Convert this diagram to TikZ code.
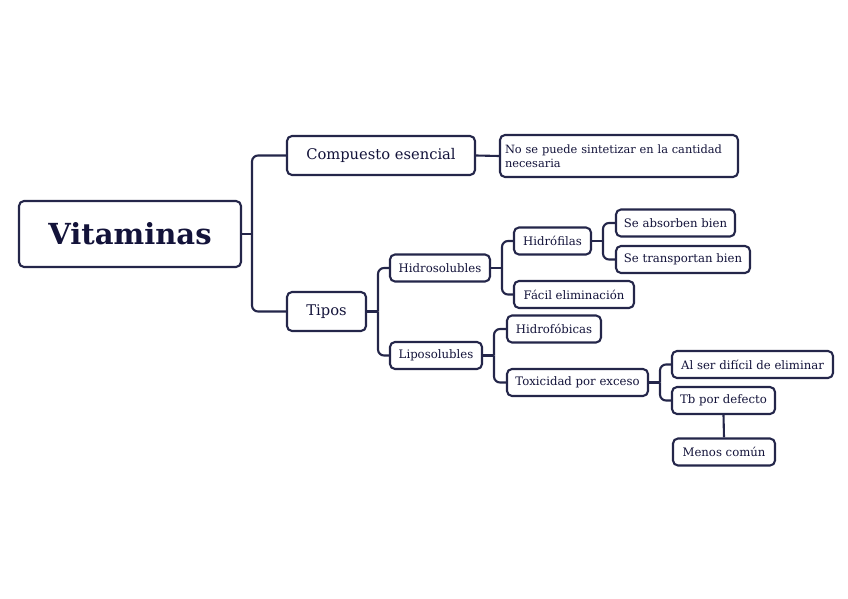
\documentclass[tikz,border=0pt]{standalone}
\usepackage{fontspec}
\setmainfont{DejaVu Serif}
\begin{document}
\begin{tikzpicture}[x=1pt,y=-1pt,
  box/.style={draw=linec, line width=2.1pt, rounded corners=5pt, fill=white, text=textc, inner sep=0pt, anchor=center},
  conn/.style={draw=linec, line width=2.1pt, rounded corners=6pt},
  small/.style={box, font=\fontsize{11.7}{13}\selectfont, minimum height=27pt},
]
\definecolor{linec}{HTML}{24264A}
\definecolor{textc}{HTML}{13133A}
\useasboundingbox (0,0) rectangle (848,599);
\node[box, minimum width=222pt, minimum height=66pt, font=\fontsize{29}{32}\selectfont\bfseries] (vit) at (130,234) {Vitaminas};
\node[box, minimum width=188pt, minimum height=39pt, font=\fontsize{14.7}{16}\selectfont] (comp) at (381,155.5) {Compuesto esencial};
\node[box, minimum width=238pt, minimum height=42pt, text width=228pt, align=left, font=\fontsize{11.4}{14}\selectfont] (nose) at (619,156) {No se puede sintetizar en la cantidad\\necesaria};
\node[box, minimum width=79pt, minimum height=39pt, font=\fontsize{14.7}{16}\selectfont] (tipos) at (326.5,311.5) {Tipos};
\node[small, minimum width=100pt] (hidro) at (440,268) {Hidrosolubles};
\node[small, minimum width=92pt] (lipo) at (436,355.5) {Liposolubles};
\node[small, minimum width=77pt] (hfil) at (552.5,241) {Hidrófilas};
\node[small, minimum width=120pt] (facil) at (574,294.5) {Fácil eliminación};
\node[small, minimum width=119pt] (abs) at (675.5,223) {Se absorben bien};
\node[small, minimum width=134pt] (trans) at (683,259.5) {Se transportan bien};
\node[small, minimum width=94pt] (hfob) at (554,329) {Hidrofóbicas};
\node[small, minimum width=141pt] (tox) at (577.5,382.5) {Toxicidad por exceso};
\node[small, minimum width=161pt] (alser) at (752.5,364.5) {Al ser difícil de eliminar};
\node[small, minimum width=103pt] (tb) at (723.5,400.5) {Tb por defecto};
\node[small, minimum width=102pt] (menos) at (724,452) {Menos común};
% junctions
\coordinate (j1) at (252,234);
\coordinate (j2) at (378,311.5);
\coordinate (j3) at (502,268);
\coordinate (j4) at (603,241);
\coordinate (j5) at (494,355.5);
\coordinate (j6) at (660,382.5);
\draw[conn] (vit.east) -- (j1);
\draw[conn] (j1) |- (comp.west);
\draw[conn] (j1) |- (tipos.west);
\draw[conn] (comp.east) -- (nose.west);
\draw[conn] (tipos.east) -- (j2);
\draw[conn] (j2) |- (hidro.west);
\draw[conn] (j2) |- (lipo.west);
\draw[conn] (hidro.east) -- (j3);
\draw[conn] (j3) |- (hfil.west);
\draw[conn] (j3) |- (facil.west);
\draw[conn] (hfil.east) -- (j4);
\draw[conn] (j4) |- (abs.west);
\draw[conn] (j4) |- (trans.west);
\draw[conn] (lipo.east) -- (j5);
\draw[conn] (j5) |- (hfob.west);
\draw[conn] (j5) |- (tox.west);
\draw[conn] (tox.east) -- (j6);
\draw[conn] (j6) |- (alser.west);
\draw[conn] (j6) |- (tb.west);
\draw[conn] (tb.south) -- (menos.north);
\end{tikzpicture}
\end{document}
